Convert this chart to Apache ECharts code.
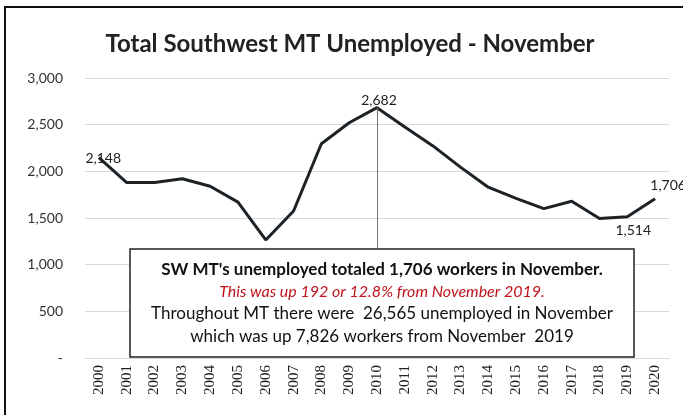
<!DOCTYPE html>
<html><head><meta charset="utf-8">
<script src="https://cdn.jsdelivr.net/npm/echarts@6/dist/echarts.min.js"></script>
<style>html,body{margin:0;padding:0;background:#fff}#c{width:683px;height:415px}</style>
</head><body><div id="c"></div>
<script>
const years = ['2000','2001','2002','2003','2004','2005','2006','2007','2008','2009','2010','2011','2012','2013','2014','2015','2016','2017','2018','2019','2020'];
const unemployed = [2148,1880,1880,1920,1840,1670,1265,1575,2295,2520,2682,2475,2275,2045,1830,1710,1600,1680,1494,1514,1706];
const yTicks = [0,500,1000,1500,2000,2500,3000];
const titleText = 'Total Southwest MT Unemployed - November';
const noteLines = [
  "SW MT's unemployed totaled 1,706 workers in November.",
  'This was up 192 or 12.8% from November 2019.',
  'Throughout MT there were  26,565 unemployed in November',
  'which was up 7,826 workers from November  2019'
];
const labelled = {0:{position:'right',offset:[-19,1]},10:{position:'top',offset:[2,5]},19:{position:'bottom',offset:[6,1]},20:{position:'top',offset:[13,-1]}};

const fmt = v => v === 0 ? '-' : v.toLocaleString('en-US');
const seriesData = unemployed.map((v,i) => labelled[i] ? {value:v,label:Object.assign({show:true},labelled[i])} : v);

const chart = echarts.init(document.getElementById('c'), null, {renderer:'canvas'});
const F = 'Lato, "Open Sans", sans-serif';
chart.setOption({
  animation:false,
  title:{text:titleText,left:345,top:27,textAlign:'center',textStyle:{fontFamily:F,fontSize:24,fontWeight:'bold',color:'#222'}},
  grid:{left:85,right:14,top:78,bottom:57},
  xAxis:{type:'category',data:years,boundaryGap:true,
    axisLine:{show:true,lineStyle:{color:'#d9d9d9'}},axisTick:{show:false},
    axisLabel:{rotate:90,fontFamily:'"Liberation Serif", serif',fontSize:15,color:'#222',margin:7}},
  yAxis:{type:'value',min:0,max:3000,interval:500,
    axisLine:{show:false},axisTick:{show:false},
    splitLine:{lineStyle:{color:'#d9d9d9'}},
    axisLabel:{formatter:fmt,fontFamily:F,fontSize:14,color:'#333',margin:22}},
  series:[{type:'line',data:seriesData,symbol:'circle',symbolSize:1,showSymbol:true,
    itemStyle:{color:'rgba(0,0,0,0)'},
    lineStyle:{color:'#1c2226',width:3},
    label:{show:false,formatter:p=>fmt(p.value),fontFamily:F,fontSize:14,color:'#222'},
    markLine:{silent:true,symbol:'none',label:{show:false},lineStyle:{color:'#777',width:1,type:'solid'},
      data:[[{coord:['2010',2682]},{coord:['2010',1150]}]]}
  }],
  graphic:[
    {type:'polyline',shape:{points:[[5,420],[5,7],[690,7]]},style:{fill:'none',stroke:'#111',lineWidth:2},z:100},
    {type:'rect',shape:{x:130,y:249,width:504,height:108},style:{fill:'#fff',stroke:'#222',lineWidth:1.5},z:50},
    {type:'text',x:382,y:270,style:{text:noteLines[0],font:'bold 17px '+F,fill:'#111',align:'center',verticalAlign:'middle'},z:51},
    {type:'text',x:382,y:292,style:{text:noteLines[1],font:'italic 16px '+F,fill:'#c0141b',align:'center',verticalAlign:'middle'},z:51},
    {type:'text',x:382,y:314,style:{text:noteLines[2],font:'17px '+F,fill:'#111',align:'center',verticalAlign:'middle'},z:51},
    {type:'text',x:382,y:337,style:{text:noteLines[3],font:'17px '+F,fill:'#111',align:'center',verticalAlign:'middle'},z:51}
  ]
});
</script></body></html>
